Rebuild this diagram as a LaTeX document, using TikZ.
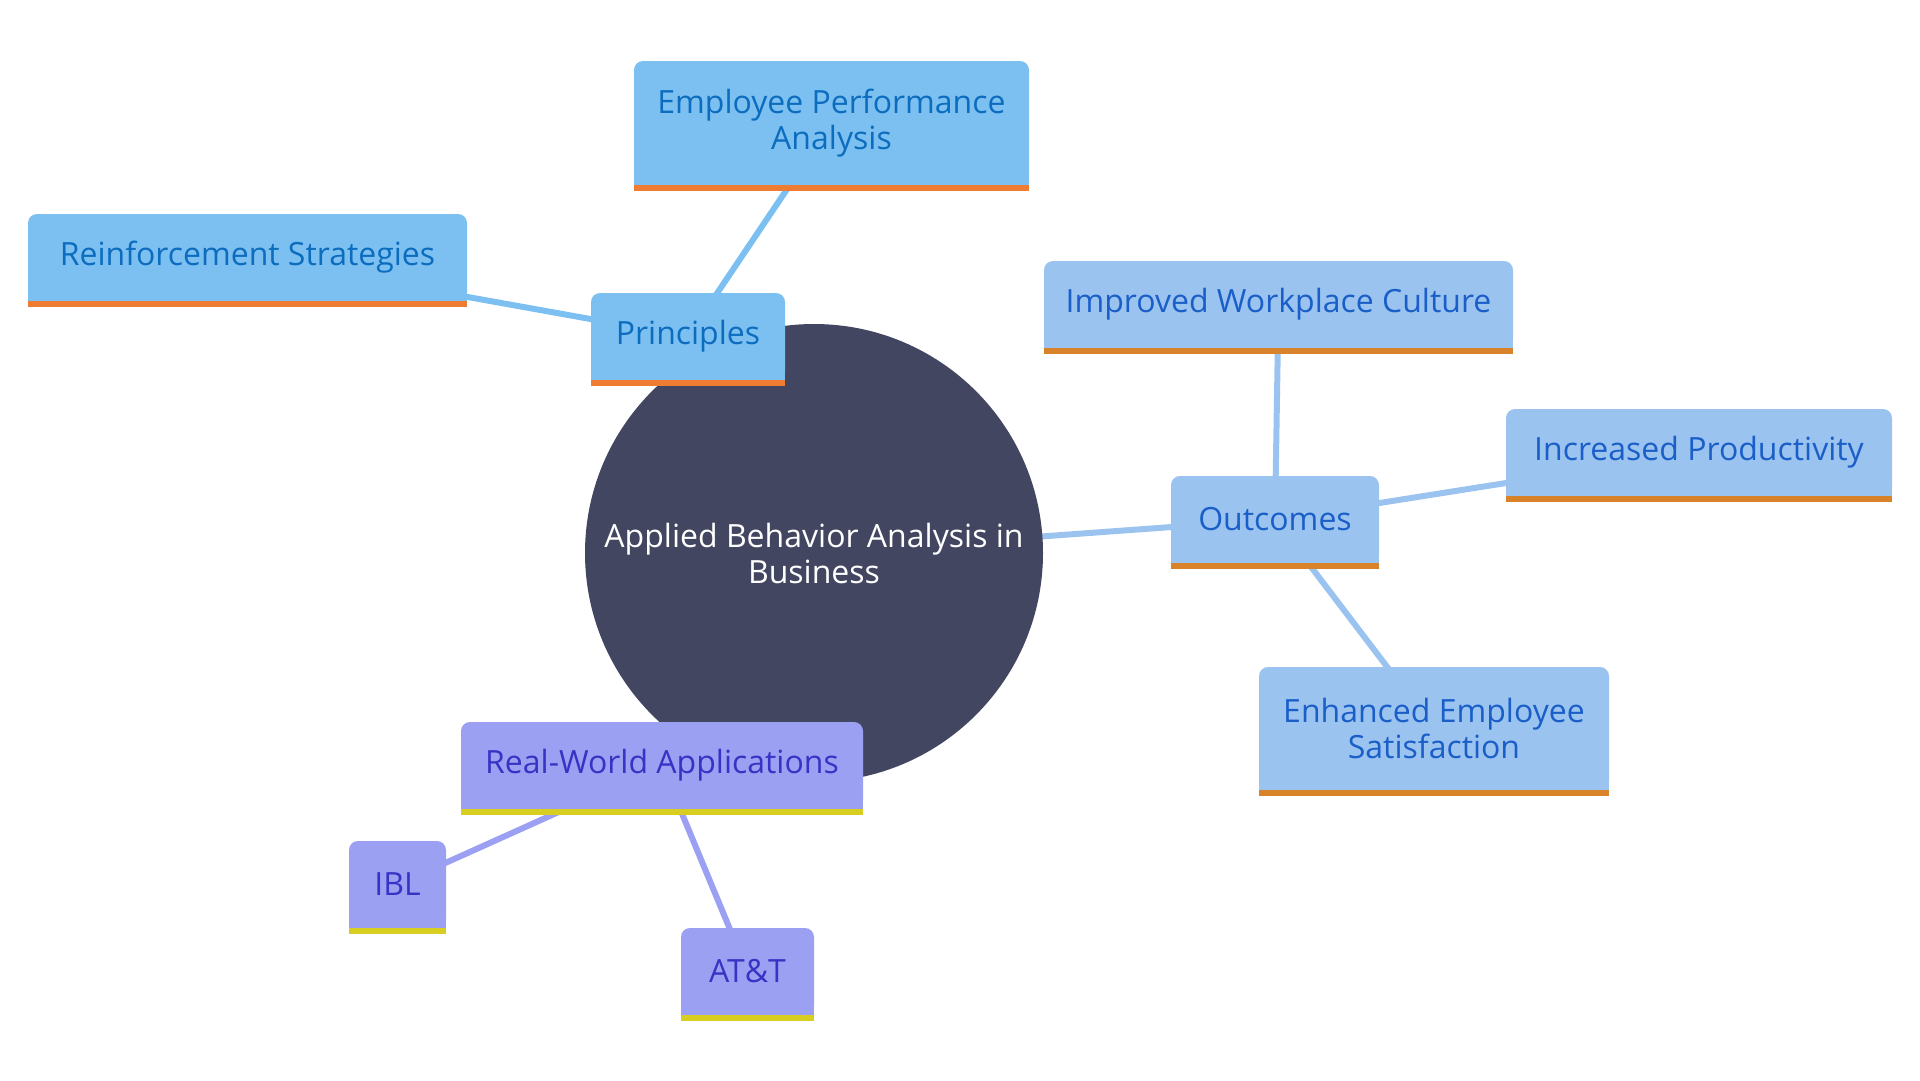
\documentclass[tikz,border=0pt]{standalone}
\usepackage{fontspec}
\setmainfont{Open Sans}
\usetikzlibrary{backgrounds}
\definecolor{rootcol}{RGB}{66,70,96}
\definecolor{prinfill}{RGB}{124,192,242}
\definecolor{printext}{RGB}{12,108,190}
\definecolor{prinbar}{RGB}{238,124,50}
\definecolor{outfill}{RGB}{155,195,240}
\definecolor{outtext}{RGB}{26,94,200}
\definecolor{outbar}{RGB}{216,130,42}
\definecolor{appfill}{RGB}{155,160,242}
\definecolor{apptext}{RGB}{58,50,196}
\definecolor{appbar}{RGB}{216,206,34}
\tikzset{every node/.style={font=\fontsize{32}{36}\selectfont, align=center},
    topic/.style={rounded corners=9pt, inner sep=0pt, minimum height=87pt},
    prin/.style={topic, fill=prinfill, text=printext},
    outc/.style={topic, fill=outfill, text=outtext},
    appl/.style={topic, fill=appfill, text=apptext},
    link/.style={line width=6pt},
    }
% square foot strip under a box
\newcommand{\footstrip}[3]{%
  \fill[#2] ([yshift=10pt]#1.south west) rectangle (#1.south east);
  \fill[#3] (#1.south west) rectangle ([yshift=-6pt]#1.south east);}

\begin{document}
\begin{tikzpicture}[x=1pt,y=-1pt]
	\useasboundingbox (0,0) rectangle (1920,1080);
	\node[circle, fill=rootcol, text=white, minimum size=458pt, inner sep=0pt] (root) at (814,553)
		{Applied Behavior Analysis in\\Business};
	% Principles
	\node[prin, minimum width=194pt] (prin) at (688,336.5) {Principles};
	\node[prin, minimum width=395pt, minimum height=124pt] (perf) at (831.5,123) {Employee Performance\\Analysis};
	\node[prin, minimum width=439pt] (reinf) at (247.5,257.5) {Reinforcement Strategies};
	% Outcomes
	\node[outc, minimum width=208pt] (outc) at (1275,519.5) {Outcomes};
	\node[outc, minimum width=469pt] (cult) at (1278.5,304.5) {Improved Workplace Culture};
	\node[outc, minimum width=386pt] (prod) at (1699,452.5) {Increased Productivity};
	\node[outc, minimum width=350pt, minimum height=123pt] (satis) at (1434,728.5) {Enhanced Employee\\Satisfaction};
	% Real-World Applications
	\node[appl, minimum width=402pt] (appl) at (662,765.5) {Real-World Applications};
	\node[appl, minimum width=97pt] (ibl) at (397.5,884.5) {IBL};
	\node[appl, minimum width=133pt] (att) at (747.5,971.5) {AT\&T};
	\foreach \n in {prin,perf,reinf} {\footstrip{\n}{prinfill}{prinbar}}
	\foreach \n in {outc,cult,prod,satis} {\footstrip{\n}{outfill}{outbar}}
	\foreach \n in {appl,ibl,att} {\footstrip{\n}{appfill}{appbar}}
	\begin{scope}[on background layer]
		\draw[link, prinfill] (root.center) -- (prin.center);
		\draw[link, prinfill] (prin.center) -- (perf.center);
		\draw[link, prinfill] (prin.center) -- (reinf.center);
		\draw[link, outfill] (root.center) -- (outc.center);
		\draw[link, outfill] (outc.center) -- (cult.center);
		\draw[link, outfill] (outc.center) -- (prod.center);
		\draw[link, outfill] (outc.center) -- (satis.center);
		\draw[link, appfill] (root.center) -- (appl.center);
		\draw[link, appfill] (appl.center) -- (ibl.center);
		\draw[link, appfill] (appl.center) -- (att.center);
	\end{scope}
\end{tikzpicture}
\end{document}
